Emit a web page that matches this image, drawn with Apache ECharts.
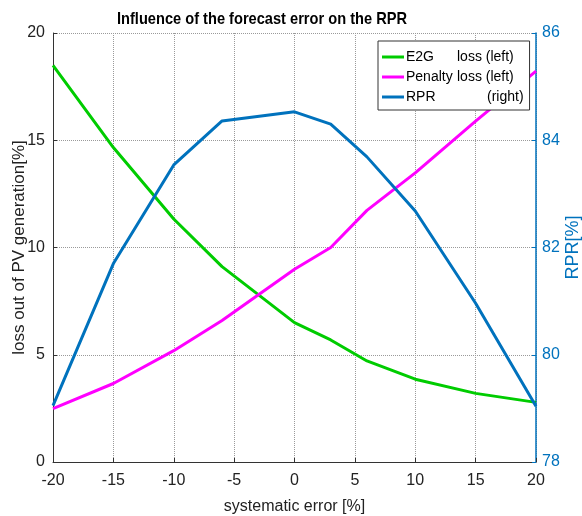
<!DOCTYPE html>
<html><head><meta charset="utf-8">
<script src="https://cdn.jsdelivr.net/npm/echarts@6/dist/echarts.min.js"></script>
<style>html,body{margin:0;padding:0;background:#fff}#c{width:582px;height:516px}</style>
</head><body><div id="c"></div>
<script>
const xErr = [-20, -15, -10, -6, 0, 3, 6, 10, 15, 20];
const e2gLoss = [18.49, 14.66, 11.33, 9.11, 6.5, 5.69, 4.71, 3.86, 3.2, 2.78];
const penaltyLoss = [2.49, 3.66, 5.19, 6.6, 8.99, 10.0, 11.73, 13.48, 15.89, 18.22];
const rpr = [79.05, 81.70, 83.54, 84.36, 84.53, 84.30, 83.69, 82.68, 80.96, 79.04];
const xTicks = [-20, 20, 5];
const leftTicks = [0, 20, 5];
const rightTicks = [78, 86, 2];
const titleText = 'Influence of the forecast error on the RPR';

const pairs = ys => xErr.map((x, i) => [x, ys[i]]);
const FONT = 'Liberation Sans';
const BLUE = '#0072BD';
const chart = echarts.init(document.getElementById('c'), null, {renderer: 'canvas'});
const dotted = {show: true, lineStyle: {color: '#9a9a9a', type: [1, 1], width: 1}};
chart.setOption({
  animation: false,
  backgroundColor: '#fff',
  graphic: [{
    type: 'text', x: 262, y: 19, scaleX: 0.86, scaleY: 1,
    style: {text: titleText, fontFamily: FONT, fontWeight: 'bold', fontSize: 17, fill: '#000',
            align: 'center', verticalAlign: 'middle'}
  }],
  grid: {left: 53, right: 46, top: 33, bottom: 54, containLabel: false, outerBoundsMode: 'none'},
  legend: {
    orient: 'vertical', left: 378, top: 41,
    itemWidth: 22, itemHeight: 3, itemGap: 6,
    padding: [9, 6, 6, 4],
    borderColor: '#333', borderWidth: 1, backgroundColor: '#fff',
    icon: 'rect',
    data: ['E2G', 'Penalty', 'RPR'],
    formatter: function (n) {
      if (n === 'E2G') return '{a|E2G}{b|loss (left)}';
      if (n === 'Penalty') return '{a|Penalty}{b|loss (left)}';
      return '{c|RPR}{d|(right)}';
    },
    textStyle: {
      fontFamily: FONT, fontSize: 14, color: '#000', padding: [0, 0, 0, -3],
      rich: {
        a: {fontFamily: FONT, fontSize: 14, width: 51, color: '#000'},
        b: {fontFamily: FONT, fontSize: 14, width: 65, color: '#000'},
        c: {fontFamily: FONT, fontSize: 14, width: 81, color: '#000'},
        d: {fontFamily: FONT, fontSize: 14, width: 35, color: '#000'}
      }
    }
  },
  xAxis: {
    type: 'value', min: xTicks[0], max: xTicks[1], interval: xTicks[2],
    name: 'systematic error [%]', nameLocation: 'middle', nameGap: 37, nameMoveOverlap: false,
    nameTextStyle: {fontFamily: FONT, fontSize: 16, color: '#222'},
    axisLine: {show: true, onZero: false, lineStyle: {color: '#333', width: 1}},
    axisTick: {show: true, inside: true, length: 4, lineStyle: {color: '#333'}},
    axisLabel: {fontFamily: FONT, fontSize: 16, color: '#222', margin: 11},
    splitLine: dotted
  },
  yAxis: [{
    type: 'value', min: leftTicks[0], max: leftTicks[1], interval: leftTicks[2],
    name: 'loss out of PV generation[%]', nameLocation: 'middle', nameGap: 25, nameMoveOverlap: false,
    nameTextStyle: {fontFamily: FONT, fontSize: 17, color: '#222'},
    axisLine: {show: true, onZero: false, lineStyle: {color: '#333', width: 1}},
    axisTick: {show: true, inside: true, length: 4, lineStyle: {color: '#333'}},
    axisLabel: {fontFamily: FONT, fontSize: 16, color: '#222', margin: 8},
    splitLine: dotted
  }, {
    type: 'value', position: 'right', min: rightTicks[0], max: rightTicks[1], interval: rightTicks[2],
    name: 'RPR[%]', nameLocation: 'middle', nameGap: 28, nameRotate: 90, nameMoveOverlap: false,
    nameTextStyle: {fontFamily: FONT, fontSize: 18, color: BLUE},
    axisLine: {show: true, onZero: false, lineStyle: {color: BLUE, width: 1.5}},
    axisTick: {show: true, inside: true, length: 4, lineStyle: {color: BLUE}},
    axisLabel: {fontFamily: FONT, fontSize: 16, color: BLUE, margin: 6},
    splitLine: {show: false}
  }],
  series: [
    {name: 'E2G', type: 'line', yAxisIndex: 0, data: pairs(e2gLoss), showSymbol: false,
     lineStyle: {color: '#00CC00', width: 3}, itemStyle: {color: '#00CC00'}},
    {name: 'Penalty', type: 'line', yAxisIndex: 0, data: pairs(penaltyLoss), showSymbol: false,
     lineStyle: {color: '#FF00FF', width: 3}, itemStyle: {color: '#FF00FF'}},
    {name: 'RPR', type: 'line', yAxisIndex: 1, data: pairs(rpr), showSymbol: false,
     lineStyle: {color: BLUE, width: 3}, itemStyle: {color: BLUE}}
  ]
});
</script></body></html>
